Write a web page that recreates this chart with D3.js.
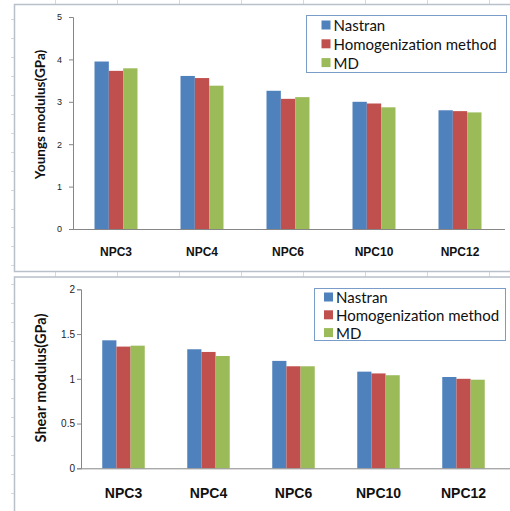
<!DOCTYPE html>
<html>
<head>
<meta charset="utf-8">
<script src="https://cdn.jsdelivr.net/npm/d3@7"></script>
<style>
  body { margin: 0; background: #fff; }
  svg { display: block; font-family: Lato, "Liberation Sans", sans-serif; }
</style>
</head>
<body>
<svg id="chart" width="510" height="511"></svg>
<script>
const categories = ['NPC3', 'NPC4', 'NPC6', 'NPC10', 'NPC12'];
const seriesNames = ['Nastran', 'Homogenization method', 'MD'];
const seriesColors = ['#4F81BD', '#C0504D', '#9BBB59'];

// Young's modulus (GPa)
const youngsNastran = [3.95, 3.61, 3.26, 3.00, 2.80];
const youngsHomog = [3.73, 3.56, 3.07, 2.96, 2.78];
const youngsMD = [3.79, 3.38, 3.11, 2.87, 2.75];
const youngsTicks = [0, 1, 2, 3, 4, 5];

// Shear modulus (GPa)
const shearNastran = [1.43, 1.33, 1.20, 1.08, 1.02];
const shearHomog = [1.36, 1.30, 1.14, 1.06, 1.00];
const shearMD = [1.37, 1.255, 1.14, 1.04, 0.99];
const shearTicks = [0, 0.5, 1, 1.5, 2];

const svg = d3.select('#chart');
const W = 510, H = 511;

// bits of the spreadsheet cell grid peeking out around the charts
const bg = svg.append('g').attr('class', 'sheet-grid').attr('stroke', '#d6d9dd');
d3.range(55, W, 62).forEach(x => {
  bg.append('line').attr('x1', x + 0.5).attr('x2', x + 0.5).attr('y1', 0).attr('y2', H);
});
d3.range(19, H, 18.95).forEach(y => {
  bg.append('line').attr('x1', 11).attr('x2', 15).attr('y1', Math.round(y) + 0.5).attr('y2', Math.round(y) + 0.5);
});

function drawPanel(cfg) {
  const g = svg.append('g');
  // chart frame
  g.append('rect')
    .attr('x', cfg.frame[0]).attr('y', cfg.frame[1])
    .attr('width', cfg.frame[2]).attr('height', cfg.frame[3])
    .attr('fill', '#fff').attr('stroke', '#b8c0c9').attr('stroke-width', 1.5);

  const x0 = d3.scaleBand().domain(categories)
    .range([cfg.left, cfg.right]).paddingInner(0.5).paddingOuter(0.25);
  const x1 = d3.scaleBand().domain(seriesNames).range([0, x0.bandwidth()]);
  const y = d3.scaleLinear().domain(cfg.domain).range([cfg.bottom, cfg.top]);

  const rows = categories.map((c, i) => ({
    cat: c,
    vals: cfg.series.map((s, j) => ({ name: seriesNames[j], v: s[i], color: seriesColors[j] }))
  }));

  const groups = g.selectAll('g.grp').data(rows).enter().append('g')
    .attr('class', 'grp')
    .attr('transform', d => `translate(${x0(d.cat)},0)`);
  groups.selectAll('rect').data(d => d.vals).enter().append('rect')
    .attr('x', d => x1(d.name))
    .attr('width', x1.bandwidth())
    .attr('y', d => y(d.v))
    .attr('height', d => y(0) - y(d.v))
    .attr('fill', d => d.color);

  // y axis
  const yAxis = g.append('g')
    .attr('transform', `translate(${cfg.left},0)`)
    .call(d3.axisLeft(y).tickValues(cfg.ticks).tickFormat(d3.format('~g'))
      .tickSize(4).tickSizeOuter(4).tickPadding(cfg.tickPad));
  yAxis.select('.domain').attr('stroke', '#868686');
  yAxis.selectAll('.tick line').attr('stroke', '#868686');
  yAxis.selectAll('.tick text')
    .attr('font-size', cfg.tickFont).attr('fill', '#222')
    .attr('font-family', '"Liberation Sans", sans-serif');

  // x axis
  const xAxis = g.append('g')
    .attr('transform', `translate(0,${cfg.bottom})`)
    .call(d3.axisBottom(x0).tickSize(0).tickSizeOuter(0).tickPadding(cfg.xPad));
  xAxis.select('.domain').attr('stroke', '#868686').attr('d', `M${cfg.left},0.5H${cfg.axisEnd}`);
  xAxis.selectAll('.tick text')
    .attr('font-size', cfg.xFont).attr('font-weight', 'bold').attr('fill', '#111');

  // y title
  g.append('text')
    .attr('transform', `translate(${cfg.titleX},${cfg.titleY}) rotate(-90)`)
    .attr('text-anchor', 'middle').attr('dominant-baseline', 'central')
    .attr('font-size', cfg.titleFont).attr('font-weight', 'bold').attr('fill', '#111')
    .text(cfg.title);

  // legend
  const lg = g.append('g').attr('transform', `translate(${cfg.legend[0]},${cfg.legend[1]})`);
  lg.append('rect')
    .attr('x', 0.5).attr('y', 0.5)
    .attr('width', cfg.legend[2]).attr('height', cfg.legend[3])
    .attr('fill', '#fff').attr('stroke', '#7a9cc9').attr('stroke-width', 1);
  seriesNames.forEach((name, i) => {
    const cy = cfg.legendRow0 + i * cfg.legendStep;
    lg.append('rect')
      .attr('x', cfg.legendSq).attr('y', cy - 4.5).attr('width', 9).attr('height', 9)
      .attr('fill', seriesColors[i]);
    lg.append('text')
      .attr('x', cfg.legendSq + 12).attr('y', cy)
      .attr('dominant-baseline', 'central')
      .attr('font-size', cfg.legendFont).attr('fill', '#111')
      .text(name);
  });
}

drawPanel({
  frame: [14.5, 4.5, 520, 267],
  left: 73, right: 503, top: 17, bottom: 229, axisEnd: 505,
  domain: [0, 5], ticks: youngsTicks,
  series: [youngsNastran, youngsHomog, youngsMD],
  tickPad: 7, tickFont: 9, xPad: 18, xFont: 12,
  title: 'Youngs modulus(GPa)', titleX: 40, titleY: 114.5, titleFont: 13.5,
  legend: [306, 15, 200, 57], legendSq: 15.5, legendRow0: 10, legendStep: 18.8, legendFont: 15
});

drawPanel({
  frame: [14.5, 277, 520, 260],
  left: 81, right: 506, top: 289.3, bottom: 468.3, axisEnd: 510,
  domain: [0, 2], ticks: shearTicks,
  series: [shearNastran, shearHomog, shearMD],
  tickPad: 2, tickFont: 10, xPad: 20, xFont: 14,
  title: 'Shear modulus(GPa)', titleX: 40, titleY: 378, titleFont: 14.5,
  legend: [314, 288, 191, 52], legendSq: 10, legendRow0: 9, legendStep: 17.8, legendFont: 15
});
</script>
</body>
</html>
